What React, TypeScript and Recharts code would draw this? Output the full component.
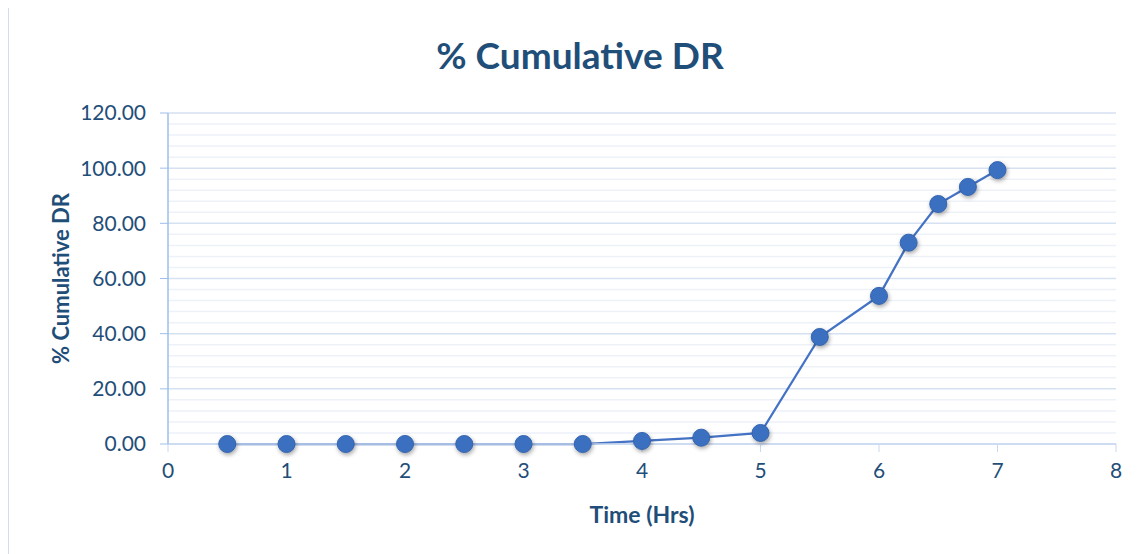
import React from 'react';
import { LineChart, Line, XAxis, YAxis, CartesianGrid, Label, ReferenceLine } from 'recharts';

const timeHrs = [0.5, 1, 1.5, 2, 2.5, 3, 3.5, 4, 4.5, 5, 5.5, 6, 6.25, 6.5, 6.75, 7];
const cumulativeDR = [0, 0, 0, 0, 0, 0, 0, 1.1, 2.3, 4.0, 38.8, 53.7, 73.0, 87.0, 93.2, 99.3];
const xTicks = [0, 1, 2, 3, 4, 5, 6, 7, 8];
const yTicks = [0, 20, 40, 60, 80, 100, 120];
const yMinor = [4, 8, 12, 16, 24, 28, 32, 36, 44, 48, 52, 56, 64, 68, 72, 76, 84, 88, 92, 96, 104, 108, 112, 116];

const data = timeHrs.map((t, i) => ({ time: t, dr: cumulativeDR[i] }));

const TEXT = '#1F4E79';
const FONT = 'Lato, "Open Sans", sans-serif';

const Marker = (props: any) => {
  const { cx, cy, index } = props;
  if (cx == null || cy == null) return null;
  return (
    <circle
      key={`dot-${index}`}
      cx={cx}
      cy={cy}
      r={8.5}
      fill="#3B6FBF"
      stroke="#3465B3"
      strokeWidth={1}
      style={{ filter: 'drop-shadow(1px 2px 2px rgba(0,0,0,0.35))' }}
    />
  );
};

export default function App() {
  return (
    <div
      style={{
        width: 1131,
        height: 546,
        marginTop: -1,
        borderLeft: '1px solid #D0DCF0',
        borderTop: '1px solid #D0DCF0',
        position: 'relative',
        fontFamily: FONT,
        background: '#fff',
      }}
    >
      <div
        style={{
          position: 'absolute',
          top: 27,
          left: 0,
          width: 1142,
          textAlign: 'center',
          fontSize: 37,
          lineHeight: '40px',
          fontWeight: 700,
          color: TEXT,
        }}
      >
        % Cumulative DR
      </div>
      <LineChart width={1131} height={546} data={data} margin={{ top: 105, right: 24, bottom: 70, left: 59 }}>
        <CartesianGrid horizontal vertical={false} horizontalValues={yTicks} stroke="#D6E1F2" strokeWidth={1.5} />
        {yMinor.map((v) => (
          <ReferenceLine key={`minor-${v}`} y={v} stroke="#EDF1F8" strokeWidth={1.5} ifOverflow="hidden" />
        ))}
        <XAxis
          dataKey="time"
          type="number"
          domain={[0, 8]}
          ticks={xTicks}
          height={40}
          axisLine={{ stroke: '#C9D8EF', strokeWidth: 1.5 }}
          tickLine={{ stroke: '#C9D8EF' }}
          tickSize={8}
          tickMargin={11}
          tick={{ fill: TEXT, fontSize: 21, fontFamily: FONT }}
        >
          <Label
            content={(p: any) => {
              const vb = p.viewBox;
              return (
                <text
                  x={vb.x + vb.width / 2}
                  y={vb.y + vb.height + 30}
                  textAnchor="middle"
                  dominantBaseline="central"
                  fill={TEXT}
                  fontSize={23}
                  fontWeight={700}
                  fontFamily={FONT}
                >
                  Time (Hrs)
                </text>
              );
            }}
          />
        </XAxis>
        <YAxis
          type="number"
          domain={[0, 120]}
          ticks={yTicks}
          width={100}
          axisLine={{ stroke: '#9EBFEA', strokeWidth: 1.5 }}
          tickLine={{ stroke: '#9EBFEA' }}
          tickSize={8}
          tickMargin={14}
          tickFormatter={(v: number) => v.toFixed(2)}
          tick={{ fill: TEXT, fontSize: 21, fontFamily: FONT }}
        >
          <Label
            content={(p: any) => {
              const vb = p.viewBox;
              const x = vb.x - 8;
              const y = vb.y + vb.height / 2;
              return (
                <text
                  x={x}
                  y={y}
                  transform={`rotate(-90 ${x} ${y})`}
                  textAnchor="middle"
                  dominantBaseline="central"
                  fill={TEXT}
                  fontSize={22}
                  fontWeight={700}
                  fontFamily={FONT}
                >
                  % Cumulative DR
                </text>
              );
            }}
          />
        </YAxis>
        <Line
          type="linear"
          dataKey="dr"
          stroke="#4472C4"
          strokeWidth={2.25}
          dot={<Marker />}
          activeDot={false}
          isAnimationActive={false}
        />
      </LineChart>
    </div>
  );
}
